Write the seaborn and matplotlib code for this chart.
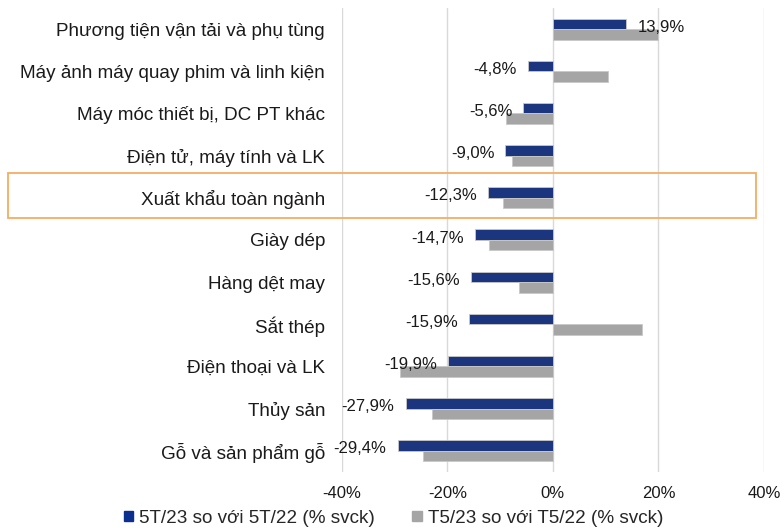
import pandas as pd
import matplotlib.pyplot as plt
import matplotlib.patches as mpatches
import seaborn as sns

# categories, top to bottom
categories = [
    "Phương tiện vận tải và phụ tùng",
    "Máy ảnh máy quay phim và linh kiện",
    "Máy móc thiết bị, DC PT khác",
    "Điện tử, máy tính và LK",
    "Xuất khẩu toàn ngành",
    "Giày dép",
    "Hàng dệt may",
    "Sắt thép",
    "Điện thoại và LK",
    "Thủy sản",
    "Gỗ và sản phẩm gỗ",
]
ytd = [13.9, -4.8, -5.6, -9.0, -12.3, -14.7, -15.6, -15.9, -19.9, -27.9, -29.4]
month = [20.0, 10.4, -8.9, -7.7, -9.4, -12.1, -6.4, 16.8, -29.0, -22.9, -24.6]
series = ["5T/23 so với 5T/22 (% svck)", "T5/23 so với T5/22 (% svck)"]
ticks = [-40, -20, 0, 20, 40]

df = pd.DataFrame({
    "cat": categories * 2,
    "val": ytd + month,
    "series": [series[0]] * len(ytd) + [series[1]] * len(month),
})

sns.set_style("white")
plt.rcParams["font.family"] = ["Liberation Sans", "DejaVu Sans"]

fig = plt.figure(figsize=(7.82, 5.32), dpi=100)
ax = fig.add_axes([0.437, 0.113, 0.54, 0.872])

sns.barplot(data=df, y="cat", x="val", hue="series", order=categories,
            hue_order=series, palette=["#0b2f8e", "#a5a5a5"], orient="h",
            width=0.5, edgecolor="#c8c8c8", linewidth=0.6, legend=False, ax=ax)

# data labels on the first series only, a bit below the bar centre
for p, v in zip(ax.containers[0], ytd):
    end = p.get_x() + p.get_width()
    yc = p.get_y() + p.get_height() / 2
    ax.annotate(f"{v:.1f}%".replace(".", ","), (end, yc),
                xytext=(8 if v > 0 else -8, -2.5), textcoords="offset points",
                ha="left" if v > 0 else "right", va="center",
                fontsize=12, color="#1a1a1a")

ax.set_xlim(-40, 40)
ax.set_xticks(ticks)
ax.set_xticklabels([f"{t}%" for t in ticks])
ax.set_xlabel("")
ax.set_ylabel("")
ax.grid(axis="x", color="#d9d9d9", linewidth=1)
ax.set_axisbelow(True)
for s in ax.spines.values():
    s.set_visible(False)
ax.tick_params(axis="both", length=0, colors="#1a1a1a")
ax.tick_params(axis="x", labelsize=12, pad=10)
ax.tick_params(axis="y", labelsize=13.6, pad=12)

# highlight box around the total row
fig.patches.append(mpatches.Rectangle((8 / 782, 1 - 218 / 532), 748 / 782, 45 / 532,
                                      transform=fig.transFigure, fill=False,
                                      edgecolor="#f5ad62", linewidth=1.3))

handles = [mpatches.Patch(color=c) for c in ["#0b2f8e", "#a5a5a5"]]
fig.legend(handles, series, loc="lower center", bbox_to_anchor=(0.503, -0.022), ncol=2,
           frameon=False, fontsize=13.6, handlelength=0.5, handleheight=0.5,
           handletextpad=0.3, columnspacing=2.0)

fig.savefig("out.png", dpi=100)
